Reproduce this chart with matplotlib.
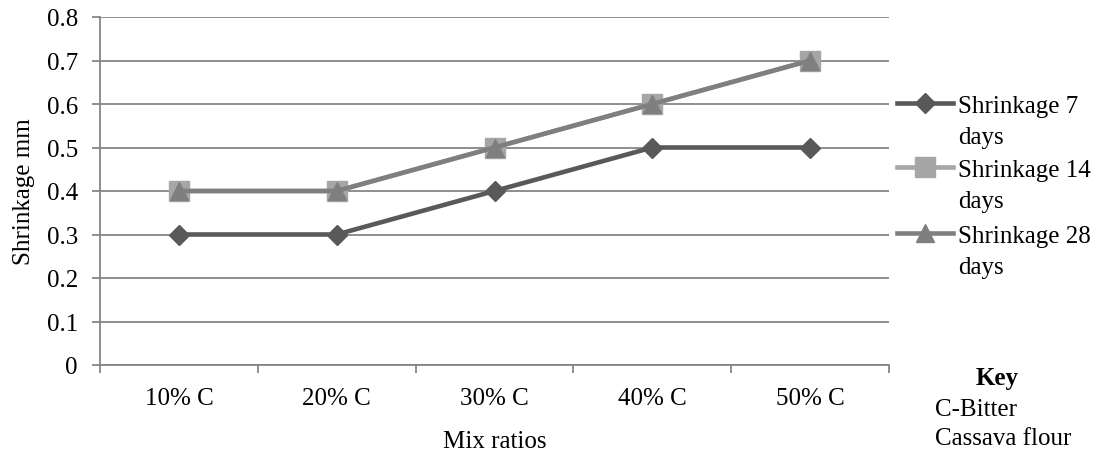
import matplotlib.pyplot as plt
from matplotlib.lines import Line2D

plt.rcParams['font.family'] = ['Liberation Serif', 'DejaVu Serif']
plt.rcParams['font.size'] = 18

# mix ratios and shrinkage readings (mm)
mixes = ['10% C', '20% C', '30% C', '40% C', '50% C']
shrink7 = [0.3, 0.3, 0.4, 0.5, 0.5]
shrink14 = [0.4, 0.4, 0.5, 0.6, 0.7]
shrink28 = [0.4, 0.4, 0.5, 0.6, 0.7]
yticks = [0, 0.1, 0.2, 0.3, 0.4, 0.5, 0.6, 0.7, 0.8]

W = 1103.
H = 452.
gridcol = '#868686'

fig = plt.figure(figsize=(W/100, H/100), dpi=100)
ax = fig.add_axes([100/W, 86/H, 789/W, 348/H])

xs = list(range(len(mixes)))
l7, = ax.plot(xs, shrink7, color='#595959', lw=3.3, marker='D', ms=10, zorder=3)
l14, = ax.plot(xs, shrink14, color='#a6a6a6', lw=3.3, marker='s', ms=14, zorder=3)
l28, = ax.plot(xs, shrink28, color='#7f7f7f', lw=3.3, marker='^', ms=13, zorder=4)

ax.set_xlim(-0.5, len(mixes) - 0.5)
ax.set_ylim(0, 0.8)
ax.set_yticks(yticks)
ax.set_yticklabels(['0' if v == 0 else '%.1f' % v for v in yticks])
ax.yaxis.grid(True, color=gridcol, lw=1.3)
ax.set_axisbelow(True)

# ticks on the category boundaries, names in between
ax.set_xticks([i - 0.5 for i in range(len(mixes) + 1)])
ax.set_xticklabels([])
ax.set_xticks(xs, minor=True)
ax.set_xticklabels(mixes, minor=True)
ax.tick_params(axis='x', which='minor', length=0, pad=16)
ax.tick_params(axis='x', which='major', length=6, color=gridcol, width=1.3)
ax.tick_params(axis='y', length=6, color=gridcol, width=1.3, pad=10)

for s in ['top', 'right']:
	ax.spines[s].set_visible(False)
for s in ['left', 'bottom']:
	ax.spines[s].set_color(gridcol)
	ax.spines[s].set_linewidth(1.3)

ax.set_xlabel('Mix ratios', labelpad=15)
ax.set_ylabel('Shrinkage mm', labelpad=8)

# legend drawn by hand so the handle sits on the first text line
labels = [('Shrinkage 7', 'days'), ('Shrinkage 14', 'days'), ('Shrinkage 28', 'days')]
rows = [104, 168, 234]
for ln, lab, y in zip([l7, l14, l28], labels, rows):
	fy = 1 - y/H
	fig.add_artist(Line2D([897/W, 953/W], [fy, fy], color=ln.get_color(), lw=ln.get_linewidth(),
		transform=fig.transFigure))
	fig.add_artist(Line2D([925/W], [fy], color=ln.get_color(), marker=ln.get_marker(),
		ms=ln.get_markersize(), transform=fig.transFigure))
	fig.text(958/W, 1 - (y + 9)/H, lab[0], ha='left', va='baseline')
	fig.text(958/W, 1 - (y + 40)/H, lab[1], ha='left', va='baseline')

fig.text(997/W, 1 - 385/H, 'Key', weight='bold', ha='center', va='baseline')
fig.text(935/W, 1 - 416/H, 'C-Bitter', ha='left', va='baseline')
fig.text(935/W, 1 - 445/H, 'Cassava flour', ha='left', va='baseline')

fig.savefig('out.png', dpi=100)
